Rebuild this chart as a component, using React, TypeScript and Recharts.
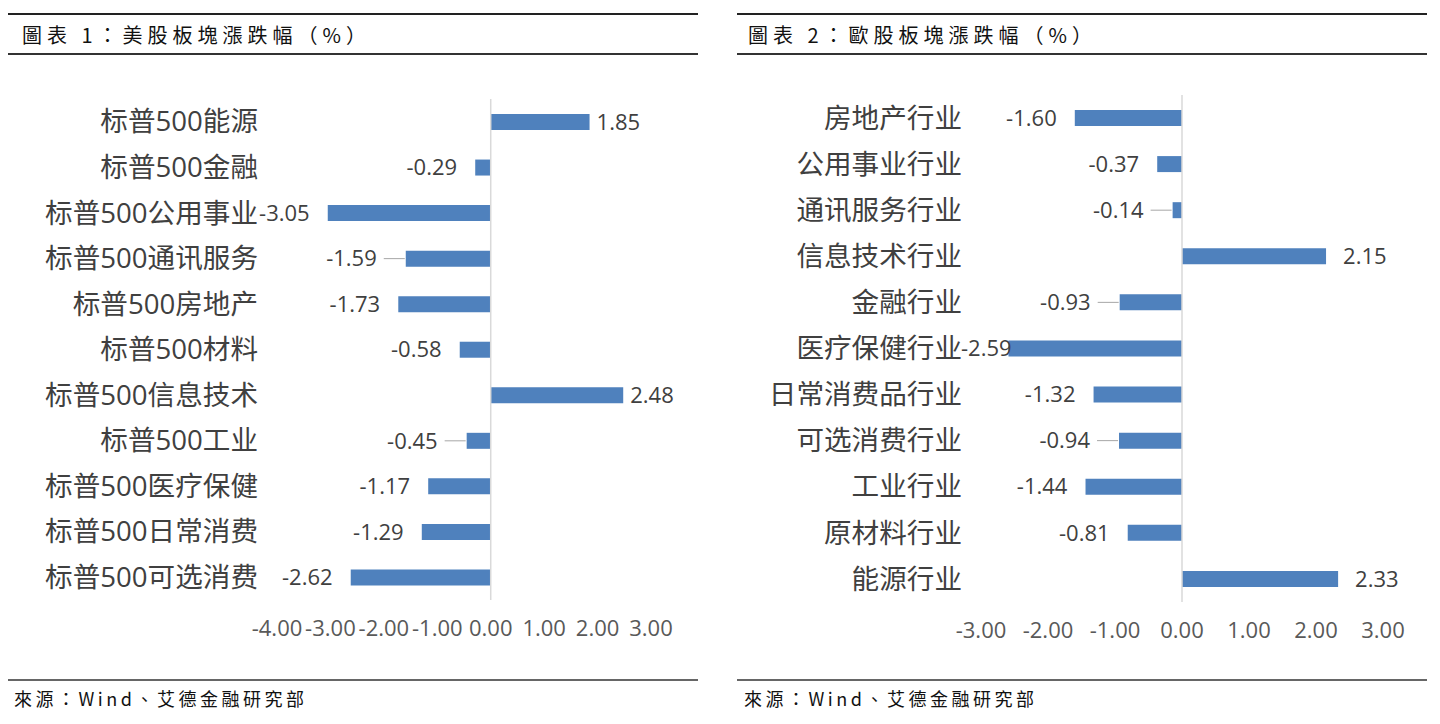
import React from "react";
import { BarChart, Bar, XAxis, YAxis, ReferenceLine, LabelList } from "recharts";

// US sector moves (%)
const usCategories = [
  "标普500能源",
  "标普500金融",
  "标普500公用事业",
  "标普500通讯服务",
  "标普500房地产",
  "标普500材料",
  "标普500信息技术",
  "标普500工业",
  "标普500医疗保健",
  "标普500日常消费",
  "标普500可选消费",
];
const usValues = [1.85, -0.29, -3.05, -1.59, -1.73, -0.58, 2.48, -0.45, -1.17, -1.29, -2.62];
const usLeaderLines = ["标普500通讯服务", "标普500工业"];
const usTicks = [-4, -3, -2, -1, 0, 1, 2, 3];

// European sector moves (%)
const euCategories = [
  "房地产行业",
  "公用事业行业",
  "通讯服务行业",
  "信息技术行业",
  "金融行业",
  "医疗保健行业",
  "日常消费品行业",
  "可选消费行业",
  "工业行业",
  "原材料行业",
  "能源行业",
];
const euValues = [-1.6, -0.37, -0.14, 2.15, -0.93, -2.59, -1.32, -0.94, -1.44, -0.81, 2.33];
const euLeaderLines = ["通讯服务行业", "金融行业", "可选消费行业"];
const euTicks = [-3, -2, -1, 0, 1, 2, 3];

const BAR = "#4f81bd";
const TEXT = "#404040";
const TICK = "#595959";
const NUM_FONT = '"Open Sans", "Noto Sans CJK SC", sans-serif';
const CJK_FONT = '"Noto Sans CJK TC", "Noto Sans CJK SC", sans-serif';
const LABEL_SIZE = 22;

const CategoryTick = (props: any) => {
  const { x, y, payload } = props;
  return (
    <text x={x} y={y} dy="0.35em" textAnchor="end" fill={TEXT} fontSize={27.6} fontFamily={NUM_FONT}>
      {payload.value}
    </text>
  );
};

// rough Open Sans advance widths, in em
const textWidth = (s: string) =>
  s.split("").reduce((w, c) => w + (c === "-" ? 0.322 : c === "." ? 0.266 : 0.572), 0) * LABEL_SIZE;

function makeValueLabel(rows: { name: string }[], leaders: string[], posGap: number, plotLeft: number) {
  return (props: any) => {
    const vb = props.viewBox || props;
    const x = Number(vb.x);
    const w = Number(vb.width);
    const y = Number(vb.y);
    const h = Number(vb.height);
    const value = Number(props.value);
    const cy = y + h / 2;
    const label = value.toFixed(2);
    const style = { fill: TEXT, fontSize: LABEL_SIZE, fontFamily: NUM_FONT };
    if (value >= 0) {
      const end = Math.max(x, x + w);
      return (
        <text x={end + posGap} y={cy} dy="0.35em" textAnchor="start" {...style}>
          {label}
        </text>
      );
    }
    const start = Math.min(x, x + w);
    const row = rows[props.index];
    if (row && leaders.includes(row.name)) {
      return (
        <g>
          <line x1={start - 1} x2={start - 22} y1={cy} y2={cy} stroke="#a6a6a6" strokeWidth={1} />
          <text x={start - 29} y={cy} dy="0.35em" textAnchor="end" {...style}>
            {label}
          </text>
        </g>
      );
    }
    // labels are kept from running past the left edge of the label area
    const left = Math.max(start - 18 - textWidth(label), plotLeft - 20);
    return (
      <text x={left} y={cy} dy="0.35em" textAnchor="start" {...style}>
        {label}
      </text>
    );
  };
}

interface PanelProps {
  left: number;
  title: string;
  categories: string[];
  values: number[];
  leaders: string[];
  ticks: number[];
  axisWidth: number;
  marginTop: number;
  marginRight: number;
  marginBottom: number;
  posGap: number;
  lineX: number;
  titleX: number;
  sourceX: number;
}

function Panel(p: PanelProps) {
  const rows = p.categories.map((name, i) => ({ name, value: p.values[i] }));
  const rule = (top: number, thick: number, color: string) => (
    <div
      style={{
        position: "absolute",
        left: p.lineX,
        top,
        width: 690,
        height: thick,
        background: color,
      }}
    />
  );
  return (
    <div style={{ position: "absolute", left: p.left, top: 0, width: 720, height: 724 }}>
      {rule(13, 1.5, "#222")}
      {rule(53, 1.5, "#333")}
      {rule(679, 2, "#666")}
      <div
        style={{
          position: "absolute",
          left: p.titleX,
          top: 21,
          fontFamily: CJK_FONT,
          fontSize: 20,
          letterSpacing: 5,
          lineHeight: "28px",
          color: "#111",
          whiteSpace: "nowrap",
        }}
      >
        {p.title}
      </div>
      <div
        style={{
          position: "absolute",
          left: p.sourceX,
          top: 686,
          fontFamily: CJK_FONT,
          fontSize: 18,
          letterSpacing: 3.5,
          lineHeight: "24px",
          color: "#111",
          whiteSpace: "nowrap",
        }}
      >
        來源：Wind、艾德金融研究部
      </div>
      <BarChart
        width={720}
        height={724}
        data={rows}
        layout="vertical"
        margin={{ top: p.marginTop, right: p.marginRight, bottom: p.marginBottom, left: 0 }}
      >
        <XAxis
          type="number"
          domain={[p.ticks[0], p.ticks[p.ticks.length - 1]]}
          ticks={p.ticks}
          interval={0}
          height={40}
          axisLine={false}
          tickLine={false}
          tickMargin={14}
          tickFormatter={(v: number) => v.toFixed(2)}
          tick={{ fill: TICK, fontSize: 22, fontFamily: NUM_FONT }}
        />
        <YAxis
          type="category"
          dataKey="name"
          width={p.axisWidth}
          axisLine={false}
          tickLine={false}
          tickMargin={13}
          interval={0}
          tick={<CategoryTick />}
        />
        <ReferenceLine x={0} stroke="#d9d9d9" strokeWidth={1.5} />
        <Bar dataKey="value" fill={BAR} barSize={16} isAnimationActive={false}>
          <LabelList dataKey="value" content={makeValueLabel(rows, p.leaders, p.posGap, p.axisWidth)} />
        </Bar>
      </BarChart>
    </div>
  );
}

export default function App() {
  return (
    <div
      style={{
        position: "absolute",
        left: 0,
        top: 0,
        width: 1440,
        height: 724,
        background: "#fff",
        overflow: "hidden",
      }}
    >
      <Panel
        left={0}
        title="圖表 1：美股板塊漲跌幅（%）"
        categories={usCategories}
        values={usValues}
        leaders={usLeaderLines}
        ticks={usTicks}
        axisWidth={277}
        marginTop={99}
        marginRight={69}
        marginBottom={84}
        posGap={7}
        lineX={8}
        titleX={22}
        sourceX={14}
      />
      <Panel
        left={720}
        title="圖表 2：歐股板塊漲跌幅（%）"
        categories={euCategories}
        values={euValues}
        leaders={euLeaderLines}
        ticks={euTicks}
        axisWidth={261}
        marginTop={95}
        marginRight={57}
        marginBottom={82}
        posGap={17}
        lineX={17}
        titleX={28}
        sourceX={24}
      />
    </div>
  );
}
